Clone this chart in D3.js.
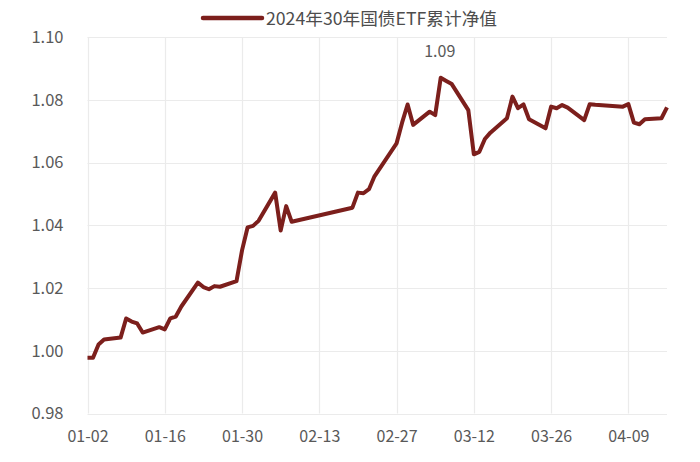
<!DOCTYPE html>
<html><head><meta charset="utf-8">
<script src="https://cdn.jsdelivr.net/npm/d3@7"></script>
<style>body{margin:0;background:#fff}svg{display:block}</style>
</head><body>
<svg id="c" width="700" height="462"></svg>
<script>
const seriesName = "2024年30年国债ETF累计净值";
const dates = ["2024-01-02","2024-01-03","2024-01-04","2024-01-05","2024-01-08","2024-01-09","2024-01-10","2024-01-11","2024-01-12",
"2024-01-15","2024-01-16","2024-01-17","2024-01-18","2024-01-19","2024-01-22","2024-01-23","2024-01-24","2024-01-25","2024-01-26",
"2024-01-29","2024-01-30","2024-01-31","2024-02-01","2024-02-02","2024-02-05","2024-02-06","2024-02-07","2024-02-08",
"2024-02-19","2024-02-20","2024-02-21","2024-02-22","2024-02-23","2024-02-26","2024-02-27","2024-02-28","2024-02-29","2024-03-01",
"2024-03-04","2024-03-05","2024-03-06","2024-03-07","2024-03-08","2024-03-11","2024-03-12","2024-03-13","2024-03-14","2024-03-15",
"2024-03-18","2024-03-19","2024-03-20","2024-03-21","2024-03-22","2024-03-25","2024-03-26","2024-03-27","2024-03-28","2024-03-29",
"2024-04-01","2024-04-02","2024-04-03","2024-04-08","2024-04-09","2024-04-10","2024-04-11","2024-04-12","2024-04-15","2024-04-16"];
const values = [0.9978,0.9978,1.0020,1.0036,1.0042,1.0103,1.0093,1.0087,1.0058,
1.0075,1.0068,1.0103,1.0109,1.0141,1.0217,1.0203,1.0196,1.0206,1.0204,
1.0222,1.0320,1.0393,1.0398,1.0414,1.0504,1.0383,1.0461,1.0411,
1.0456,1.0504,1.0502,1.0515,1.0556,1.0635,1.0661,1.0727,1.0785,1.0720,
1.0762,1.0751,1.0870,1.0860,1.0850,1.0767,1.0626,1.0634,1.0675,1.0695,
1.0741,1.0810,1.0773,1.0785,1.0738,1.0709,1.0778,1.0773,1.0783,1.0775,
1.0735,1.0786,1.0784,1.0778,1.0786,1.0727,1.0722,1.0738,1.0741,1.0776];
const xTickDates = ["2024-01-02","2024-01-16","2024-01-30","2024-02-13","2024-02-27","2024-03-12","2024-03-26","2024-04-09"];
const xDomain = ["2024-01-02","2024-04-16"];
const yTicks = [0.98,1.00,1.02,1.04,1.06,1.08,1.10];

const parse = d3.utcParse("%Y-%m-%d");
const data = dates.map((d,i)=>({date:parse(d), v:values[i]}));
const svg = d3.select("#c");
const L=87.5, R=667, T=37, B=413.5;
const x = d3.scaleUtc().domain(xDomain.map(parse)).range([L,R]);
const y = d3.scaleLinear().domain([0.98,1.10]).range([B,T]);
const font = "'Noto Sans CJK SC','Noto Sans',sans-serif";
const gridC = "#ebebeb", textC = "#595959", lineC = "#7c1f1c";

svg.append("g").selectAll("line").data(yTicks).join("line")
  .attr("x1",L).attr("x2",R).attr("y1",d=>Math.round(y(d))+0.5).attr("y2",d=>Math.round(y(d))+0.5)
  .attr("stroke",gridC).attr("stroke-width",1.2);
svg.append("g").selectAll("line").data(xTickDates.map(parse)).join("line")
  .attr("x1",d=>Math.round(x(d))+0.5).attr("x2",d=>Math.round(x(d))+0.5).attr("y1",T).attr("y2",B)
  .attr("stroke",gridC).attr("stroke-width",1.2);

const yAxis = d3.axisLeft(y).tickValues(yTicks).tickFormat(d3.format(".2f")).tickSize(0).tickPadding(0);
const gy = svg.append("g").attr("transform",`translate(${L-24},0)`).call(yAxis);
gy.select(".domain").remove();
gy.selectAll("text").attr("fill",textC).style("font-family",font).style("font-size","16.5px");

const xAxis = d3.axisBottom(x).tickValues(xTickDates.map(parse)).tickFormat(d3.utcFormat("%m-%d")).tickSize(0).tickPadding(0);
const gx = svg.append("g").attr("transform",`translate(0,${B+17})`).call(xAxis);
gx.select(".domain").remove();
gx.selectAll("text").attr("fill",textC).style("font-family",font).style("font-size","16px");

const line = d3.line().x(d=>x(d.date)).y(d=>y(d.v));
svg.append("path").datum(data).attr("d",line).attr("fill","none")
  .attr("stroke",lineC).attr("stroke-width",4).attr("stroke-linejoin","round").attr("stroke-linecap","butt");

const mx = data.reduce((a,b)=>b.v>a.v?b:a);
svg.append("text").attr("x",x(mx.date)-1).attr("y",y(mx.v)-21).attr("text-anchor","middle")
  .attr("fill",textC).style("font-family",font).style("font-size","16px").text(d3.format(".2f")(mx.v));

const lg = svg.append("g");
lg.append("line").attr("x1",203).attr("x2",262).attr("y1",18).attr("y2",18)
  .attr("stroke",lineC).attr("stroke-width",4.5).attr("stroke-linecap","round");
const lt = lg.append("text").attr("x",266).attr("y",24.5).attr("fill","#4d4d4d")
  .style("font-family",font).style("font-size","17.5px").text(seriesName);
if (lt.node().getComputedTextLength() > 0) lt.attr("textLength",231).attr("lengthAdjust","spacingAndGlyphs");
</script>
</body></html>
